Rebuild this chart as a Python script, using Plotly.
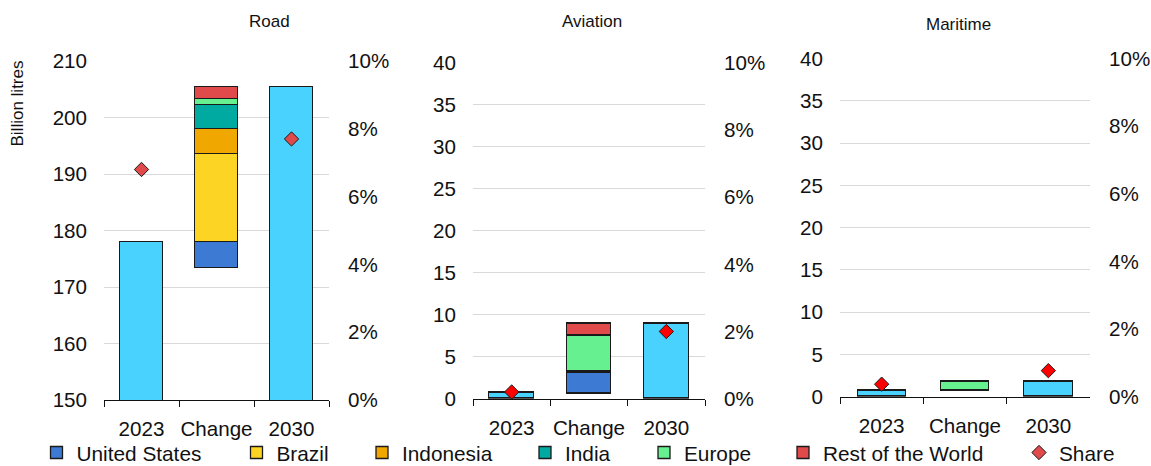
import plotly.graph_objects as go

W, H = 1151, 466

categories = ["2023", "Change", "2030"]

# Road (billion litres)
road_totals = [178.0, None, 205.4]
road_change_base = 173.3
road_us = 4.7
road_brazil = 15.5
road_indonesia = 4.4
road_india = 4.4
road_europe = 0.9
road_row = 2.2
road_share = [0.068, 0.077]

# Aviation
avi_totals = [0.7, None, 8.9]
avi_change_base = 0.65
avi_us = 2.45
avi_india = 0.15
avi_europe = 4.2
avi_row = 1.45
avi_share = [0.002, 0.020]

# Maritime
mar_totals = [0.72, None, 1.76]
mar_change_base = 0.72
mar_europe = 1.04
mar_share = [0.0037, 0.0077]

C_TOTAL = "#4AD2FF"
C_US = "#3D7AD4"
C_BRAZIL = "#FCD424"
C_INDONESIA = "#F0A800"
C_INDIA = "#00AAA0"
C_EUROPE = "#66F08F"
C_ROW = "#E04A4A"
C_SHARE = "#E04A4A"
C_SHARE2 = "#FF0000"
OUTLINE = dict(color="#1A1A1A", width=1.3)
BW = 0.58

FONT = "Liberation Sans, Arial, sans-serif"

fig = go.Figure()

def add_panel(xa, ya, totals, base, segments):
    # invisible base
    fig.add_trace(go.Bar(x=["Change"], y=[base], xaxis=xa, yaxis=ya, width=BW,
                         marker=dict(color="rgba(0,0,0,0)", line=dict(width=0)),
                         showlegend=False, hoverinfo="skip"))
    # totals
    fig.add_trace(go.Bar(x=["2023", "2030"], y=[totals[0], totals[2]], xaxis=xa, yaxis=ya,
                         width=BW, marker=dict(color=C_TOTAL, line=OUTLINE), showlegend=False))
    for name, val, col, show, leg in segments:
        fig.add_trace(go.Bar(x=["Change"], y=[val], xaxis=xa, yaxis=ya, width=BW, name=name,
                             marker=dict(color=col, line=OUTLINE), showlegend=show,
                             legend=leg, legendgroup=name))

LEG = {"United States": "legend", "Brazil": "legend2", "Indonesia": "legend3",
       "India": "legend4", "Europe": "legend5", "Rest of the World": "legend6", "Share": "legend7"}

add_panel("x", "y", road_totals, road_change_base, [
    ("United States", road_us, C_US, True, LEG["United States"]),
    ("Brazil", road_brazil, C_BRAZIL, True, LEG["Brazil"]),
    ("Indonesia", road_indonesia, C_INDONESIA, True, LEG["Indonesia"]),
    ("India", road_india, C_INDIA, True, LEG["India"]),
    ("Europe", road_europe, C_EUROPE, True, LEG["Europe"]),
    ("Rest of the World", road_row, C_ROW, True, LEG["Rest of the World"]),
])
fig.add_trace(go.Scatter(x=["2023", "2030"], y=road_share, xaxis="x", yaxis="y2", mode="markers",
                         name="Share", legend=LEG["Share"],
                         marker=dict(symbol="diamond", size=11, color=C_SHARE,
                                     line=dict(color="#1A1A1A", width=1)), cliponaxis=False))

add_panel("x2", "y3", avi_totals, avi_change_base, [
    ("United States", avi_us, C_US, False, LEG["United States"]),
    ("India", avi_india, C_INDIA, False, LEG["India"]),
    ("Europe", avi_europe, C_EUROPE, False, LEG["Europe"]),
    ("Rest of the World", avi_row, C_ROW, False, LEG["Rest of the World"]),
])
fig.add_trace(go.Scatter(x=["2023", "2030"], y=avi_share, xaxis="x2", yaxis="y4", mode="markers",
                         showlegend=False,
                         marker=dict(symbol="diamond", size=11, color=C_SHARE2,
                                     line=dict(color="#1A1A1A", width=1)), cliponaxis=False))

add_panel("x3", "y5", mar_totals, mar_change_base, [
    ("Europe", mar_europe, C_EUROPE, False, LEG["Europe"]),
])
fig.add_trace(go.Scatter(x=["2023", "2030"], y=mar_share, xaxis="x3", yaxis="y6", mode="markers",
                         showlegend=False,
                         marker=dict(symbol="diamond", size=11, color=C_SHARE2,
                                     line=dict(color="#1A1A1A", width=1)), cliponaxis=False))

def px_x(p):
    return p / W

def px_y(p):
    return 1 - p / H

panels = [
    ("xaxis", "yaxis", "yaxis2", 104, 329, 61, 400, [150, 210], 10),
    ("xaxis2", "yaxis3", "yaxis4", 473, 705, 62.7, 398.7, [0, 40], 5),
    ("xaxis3", "yaxis5", "yaxis6", 840, 1090, 58.5, 396.7, [0, 40], 5),
]

tickfont = dict(family=FONT, size=20.6, color="#111111")
layout_axes = {}
for i, (xa, ya, ya2, x0, x1, yt, yb, rng, dt) in enumerate(panels):
    xref = "x" if i == 0 else f"x{i+1}"
    yref = "y" if i == 0 else f"y{2*i+1}"
    layout_axes[xa] = dict(domain=[px_x(x0), px_x(x1)], anchor=yref, type="category",
                           categoryorder="array", categoryarray=categories,
                           range=[-0.5, 2.5], showline=True, linecolor="#111111", linewidth=1.3,
                           ticks="outside", tickson="boundaries", ticklen=6, tickcolor="#111111",
                           tickwidth=1.3, showgrid=False, tickfont=tickfont, automargin=False,
                           tickangle=0, ticklabelstandoff=10, zeroline=False)
    layout_axes[ya] = dict(domain=[px_y(yb), px_y(yt)], anchor=xref, range=rng, dtick=dt,
                           tick0=0, showgrid=True, gridcolor="#D9D9D9", gridwidth=1.3,
                           showline=False, zeroline=False, ticks="", tickfont=tickfont,
                           automargin=False, ticklabelstandoff=16)
    layout_axes[ya2] = dict(domain=[px_y(yb), px_y(yt)], anchor=xref, overlaying=yref,
                            side="right", range=[0, 0.1], dtick=0.02, tickformat=".0%",
                            showgrid=False, showline=False, zeroline=False, ticks="",
                            tickfont=tickfont, automargin=False, ticklabelstandoff=18)

legfont = dict(family=FONT, size=20.8, color="#111111")
leg_centers = {"legend": 62.5, "legend2": 262.5, "legend3": 388, "legend4": 551,
               "legend5": 670, "legend6": 809, "legend7": 1045}
for k, cx in leg_centers.items():
    layout_axes[k] = dict(x=px_x(cx - 26), xanchor="left", y=px_y(453), yanchor="middle",
                          orientation="h", font=legfont, bgcolor="rgba(0,0,0,0)",
                          borderwidth=0, itemwidth=30, tracegroupgap=0)

fig.update_layout(
    width=W, height=H, barmode="stack", bargap=0,
    margin=dict(l=0, r=0, t=0, b=0, autoexpand=False),
    paper_bgcolor="white", plot_bgcolor="white",
    font=dict(family=FONT, size=20, color="#111111"),
    **layout_axes,
)

ann_font = dict(family=FONT, size=17, color="#111111")
fig.add_annotation(text="Road", x=px_x(269), y=px_y(22), xref="paper", yref="paper",
                   showarrow=False, font=ann_font, xanchor="center", yanchor="middle")
fig.add_annotation(text="Aviation", x=px_x(592), y=px_y(22), xref="paper", yref="paper",
                   showarrow=False, font=ann_font, xanchor="center", yanchor="middle")
fig.add_annotation(text="Maritime", x=px_x(958), y=px_y(24), xref="paper", yref="paper",
                   showarrow=False, font=ann_font, xanchor="center", yanchor="middle")
fig.add_annotation(text="Billion litres", x=px_x(16.5), y=px_y(104), xref="paper", yref="paper",
                   showarrow=False, font=ann_font, textangle=-90,
                   xanchor="center", yanchor="middle")

fig.write_html("out.html", config={"displayModeBar": False},
               post_script="document.body.style.margin='0';document.body.style.padding='0';")
